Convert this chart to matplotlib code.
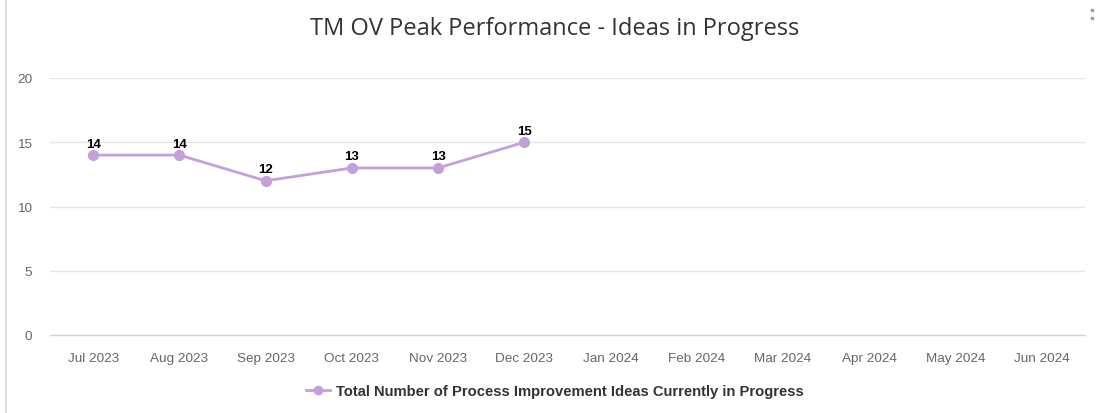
import matplotlib
matplotlib.use("Agg")
import matplotlib.pyplot as plt
from matplotlib.lines import Line2D

months = ["Jul 2023", "Aug 2023", "Sep 2023", "Oct 2023", "Nov 2023", "Dec 2023",
          "Jan 2024", "Feb 2024", "Mar 2024", "Apr 2024", "May 2024", "Jun 2024"]
values = [14, 14, 12, 13, 13, 15]
series_name = "Total Number of Process Improvement Ideas Currently in Progress"
title = "TM OV Peak Performance - Ideas in Progress"
yticks = [0, 5, 10, 15, 20]

color = "#c39fdb"
plt.rcParams['font.family'] = ['Liberation Sans', 'DejaVu Sans']

fig = plt.figure(figsize=(11.1, 4.14), dpi=100)
ax = fig.add_axes([50/1110, 1-336/414, 1035/1110, 257/414])

x = list(range(len(values)))
ax.plot(x, values, color=color, lw=2, marker="o", ms=7, zorder=3, clip_on=False)
for xi, v in zip(x, values):
    ax.annotate(str(v), (xi, v), xytext=(0, 4), textcoords="offset points",
                ha="center", va="bottom", fontsize=9.5, fontweight="bold", color="#000000")

ax.set_xlim(-0.5, len(months) - 0.5)
ax.set_ylim(0, 20)
ax.set_xticks(range(len(months)))
ax.set_xticklabels(months)
ax.set_yticks(yticks)
ax.tick_params(axis="both", length=0, labelsize=9.7, colors="#666666")
ax.tick_params(axis="x", pad=12.5)
ax.tick_params(axis="y", pad=13)
ax.grid(axis="y", color="#e6e6e6", lw=1)
ax.set_axisbelow(True)
for s in ["top", "right", "left"]:
    ax.spines[s].set_visible(False)
ax.spines["bottom"].set_color("#c5d3ec")
ax.spines["bottom"].set_linewidth(1)

fig.text(0.5, 1-29/414, title, ha="center", va="center", fontsize=17, color="#333333",
         family=["Open Sans", "DejaVu Sans"])

handle = Line2D([], [], color=color, lw=2, marker="o", ms=6)
fig.legend([handle], [series_name], loc="center", bbox_to_anchor=(0.5, 1-392/414),
           frameon=False, fontsize=10.6, handlelength=1.6, handletextpad=0.4,
           labelcolor="#333333")
for t in fig.legends[0].get_texts():
    t.set_fontweight("bold")

fig.add_artist(Line2D([6/1110, 6/1110], [0, 1], color="#dcdce6", lw=1.5))
for yy in (11, 19):
    fig.add_artist(Line2D([1092/1110], [1-yy/414], marker="s", ms=1.8, color="#999999", lw=0))

fig.savefig("out.png", dpi=100)
